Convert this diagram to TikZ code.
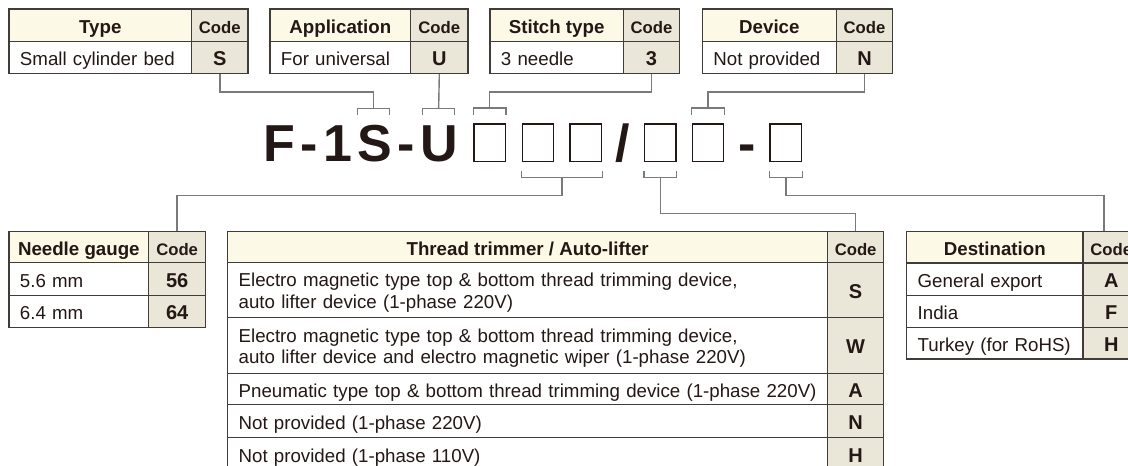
\documentclass[tikz,border=0pt]{standalone}
\usepackage{fontspec}
\setmainfont{Liberation Sans}
\usetikzlibrary{calc}
\definecolor{ink}{RGB}{35,24,21}
\definecolor{bord}{RGB}{66,60,56}
\definecolor{headfill}{RGB}{252,249,230}
\definecolor{codefill}{RGB}{234,231,217}
\definecolor{conn}{RGB}{122,122,122}
\newcommand\gp{\kern5.4pt\relax}
\newcommand\topbr[2]{\draw[link] ([yshift=8.7pt]#1) -- ([yshift=15.4pt]#1) -- ([yshift=15.4pt]#2) -- ([yshift=8.7pt]#2);}
\newcommand\botbr[2]{\draw[link] ([yshift=-8.7pt]#1) -- ([yshift=-15.4pt]#1) -- ([yshift=-15.4pt]#2) -- ([yshift=-8.7pt]#2);}
\begin{document}
\begin{tikzpicture}[x=1pt,y=-1pt,
 cellbase/.style={draw=bord, line width=1.3pt, rectangle, anchor=north west, inner sep=0pt, text=ink, text height=18pt, text depth=1.4pt},
 headc/.style={cellbase, fill=headfill, font=\bfseries\fontsize{18.7}{21.7}\selectfont},
 codeh/.style={cellbase, fill=codefill, font=\bfseries\fontsize{16.7}{20}\selectfont},
 codev/.style={cellbase, fill=codefill, font=\bfseries\fontsize{20}{22}\selectfont},
 bodyc/.style={cellbase, fill=white, font=\fontsize{18.7}{21.7}\selectfont, inner xsep=11pt, align=left},
 twoline/.style={text height=18pt, text depth=24.8pt},
 wh/.style 2 args={minimum width=#1pt, minimum height=#2pt},
 link/.style={draw=conn, line width=1.4pt},
 mbox/.style={draw=ink, line width=1.4pt, minimum width=31.4pt, minimum height=37.3pt, inner sep=0pt},
 mchar/.style={text=ink, font=\bfseries\fontsize{52}{52}\selectfont, inner sep=0pt},
]
\useasboundingbox (0,0) rectangle (1128,466);
\clip (0,0) rectangle (1128,466);
\fill[white] (0,0) rectangle (1128,466);

% ---------- top tables ----------
\node[headc, wh={182.7}{32.4}] (typeH) at (8.3,8.3) {Type};
\node[codeh, wh={56.3}{32.4}] (typeC) at (191,8.3) {Code};
\node[bodyc, wh={182.7}{32}, text width=160.7pt] (typeV) at (8.3,40.7) {Small cylinder bed};
\node[codev, wh={56.3}{32}] (typeS) at (191,40.7) {S};

\node[headc, wh={140.7}{32.4}] (appH) at (269.3,8.3) {Application};
\node[codeh, wh={57.3}{32.4}] (appC) at (410,8.3) {Code};
\node[bodyc, wh={140.7}{32}, text width=118.7pt] (appV) at (269.3,40.7) {For universal};
\node[codev, wh={57.3}{32}] (appS) at (410,40.7) {U};

\node[headc, wh={133.4}{32.4}] (stH) at (489.3,8.3) {Stitch type};
\node[codeh, wh={56.3}{32.4}] (stC) at (622.7,8.3) {Code};
\node[bodyc, wh={133.4}{32}, text width=111.4pt] (stV) at (489.3,40.7) {3 needle};
\node[codev, wh={56.3}{32}] (stS) at (622.7,40.7) {3};

\node[headc, wh={134}{32.4}] (devH) at (701.7,8.3) {Device};
\node[codeh, wh={56.3}{32.4}] (devC) at (835.7,8.3) {Code};
\node[bodyc, wh={134}{32}, text width=112pt] (devV) at (701.7,40.7) {Not provided};
\node[codev, wh={56.3}{32}] (devS) at (835.7,40.7) {N};

% ---------- model number ----------
\node[mchar, anchor=base west] (model) at (263,161.3) {F\gp-\gp1\gp S\gp-\gp U};
\node[mbox] (b1) at (489.7,142.7) {};
\node[mbox] (b2) at (538,142.7) {};
\node[mbox] (b3) at (585.8,142.7) {};
\node[mchar, anchor=base] (slash) at (623,161.3) {/};
\node[mbox] (b4) at (660.3,142.7) {};
\node[mbox] (b5) at (708,142.7) {};
\node[mchar, anchor=base] (dash) at (747,161.3) {-};
\node[mbox] (b6) at (785.8,142.7) {};

\coordinate (SL) at (357.3,124);
\coordinate (SR) at (389.3,124);
\coordinate (UL) at (422.65,124);
\coordinate (UR) at (454.65,124);

% top brackets
\topbr{SL}{SR}
\topbr{UL}{UR}
\topbr{b1.north west}{b1.north east}
\topbr{b5.north west}{b5.north east}
% bottom brackets
\botbr{b2.south west}{b3.south east}
\botbr{b4.south west}{b4.south east}
\botbr{b6.south west}{b6.south east}

% ---------- bottom tables ----------
\node[headc, wh={139.7}{31}] (ngH) at (8.3,231) {Needle gauge};
\node[codeh, wh={57}{31}] (ngC) at (148,231) {Code};
\node[bodyc, wh={139.7}{33}, text width=117.7pt] (ng1) at (8.3,262) {5.6 mm};
\node[codev, wh={57}{33}] (ng1c) at (148,262) {56};
\node[bodyc, wh={139.7}{32}, text width=117.7pt] (ng2) at (8.3,295) {6.4 mm};
\node[codev, wh={57}{32}] (ng2c) at (148,295) {64};

\node[headc, wh={600}{31}] (ttH) at (227,231) {Thread trimmer / Auto-lifter};
\node[codeh, wh={56}{31}] (ttC) at (827,231) {Code};
\node[bodyc, twoline, wh={600}{55}, text width=578pt] (tt1) at (227,262) {Electro magnetic type top \& bottom thread trimming device,\\auto lifter device (1-phase 220V)};
\node[codev, wh={56}{55}] (tt1c) at (827,262) {S};
\node[bodyc, twoline, wh={600}{56}, text width=578pt] (tt2) at (227,317) {Electro magnetic type top \& bottom thread trimming device,\\auto lifter device and electro magnetic wiper (1-phase 220V)};
\node[codev, wh={56}{56}] (tt2c) at (827,317) {W};
\node[bodyc, wh={600}{31}, text width=578pt] (tt3) at (227,373) {Pneumatic type top \& bottom thread trimming device (1-phase 220V)};
\node[codev, wh={56}{31}] (tt3c) at (827,373) {A};
\node[bodyc, wh={600}{33}, text width=578pt] (tt4) at (227,404) {Not provided (1-phase 220V)};
\node[codev, wh={56}{33}] (tt4c) at (827,404) {N};
\node[bodyc, wh={600}{32.5}, text width=578pt] (tt5) at (227,437) {Not provided (1-phase 110V)};
\node[codev, wh={56}{32.5}] (tt5c) at (827,437) {H};

\node[headc, wh={176.3}{31.6}] (dH) at (906,230.7) {Destination};
\node[codeh, wh={56.7}{31.6}] (dC) at (1082.3,230.7) {Code};
\node[bodyc, wh={176.3}{32.7}, text width=154.3pt] (d1) at (906,262.3) {General export};
\node[codev, wh={56.7}{32.7}] (d1c) at (1082.3,262.3) {A};
\node[bodyc, wh={176.3}{31.7}, text width=154.3pt] (d2) at (906,295) {India};
\node[codev, wh={56.7}{31.7}] (d2c) at (1082.3,295) {F};
\node[bodyc, wh={176.3}{31.6}, text width=154.3pt] (d3) at (906,326.7) {Turkey (for RoHS)};
\node[codev, wh={56.7}{31.6}] (d3c) at (1082.3,326.7) {H};

% ---------- connectors ----------
\draw[link] (typeS.south) -- ++(0,18) -| ([yshift=15.4pt]$(SL)!.5!(SR)$);
\draw[link] (appS.south) -- ([yshift=15.4pt]$(UL)!.5!(UR)$);
\draw[link] (stS.south) -- ++(0,18) -| ([yshift=15.4pt]b1.north);
\draw[link] (devS.south) -- ++(0,18) -| ([yshift=15.4pt]b5.north);

\draw[link] ([yshift=-15.4pt]$(b2.south)!.5!(b3.south)$) -- ++(0,18.2) -| (ngC.north);
\draw[link] ([yshift=-15.4pt]b4.south) -- ++(0,35.9) -| (ttC.north);
\draw[link] ([yshift=-15.4pt]b6.south) -- ++(0,18.2) -| ([xshift=-7.3pt]dC.north);
\end{tikzpicture}
\end{document}
